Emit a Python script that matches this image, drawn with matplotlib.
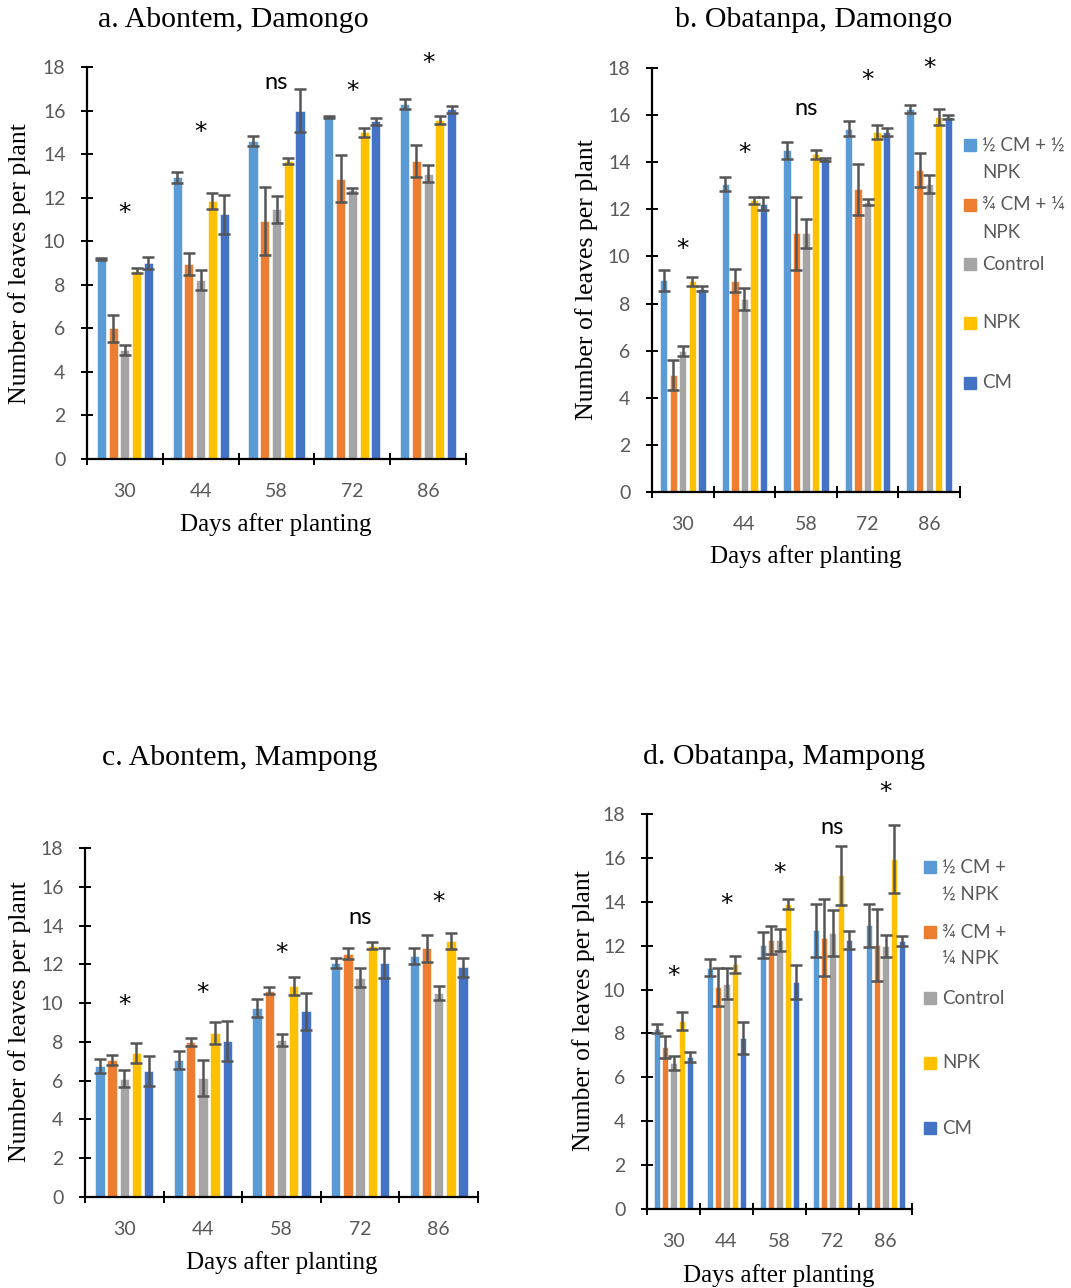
import matplotlib
matplotlib.use("Agg")
import matplotlib.pyplot as plt
from matplotlib.patches import Rectangle
import numpy as np

W, H = 1071, 1288

days = ["30", "44", "58", "72", "86"]
treatments = ["½ CM + ½ NPK", "¾ CM + ¼ NPK", "Control", "NPK", "CM"]
colors = ["#5B9BD5", "#ED7D31", "#A5A5A5", "#FFC000", "#4472C4"]

# Panel a: Abontem, Damongo  (rows = treatments, cols = days)
a_vals = [[9.2, 12.94, 14.6, 15.7, 16.3],
          [6.0, 8.97, 10.92, 12.88, 13.68],
          [5.0, 8.22, 11.46, 12.34, 13.1],
          [8.65, 11.86, 13.7, 15.0, 15.57],
          [9.0, 11.23, 16.0, 15.5, 16.05]]
a_err = [[0.05, 0.26, 0.23, 0.05, 0.23],
         [0.63, 0.5, 1.55, 1.08, 0.72],
         [0.23, 0.48, 0.62, 0.12, 0.38],
         [0.12, 0.37, 0.14, 0.2, 0.2],
         [0.26, 0.88, 1.0, 0.18, 0.17]]
a_sig = ["*", "*", "ns", "*", "*"]
a_sig_y = [11.3, 15.0, 17.3, 16.9, 18.2]

# Panel b: Obatanpa, Damongo
b_vals = [[8.99, 13.09, 14.5, 15.42, 16.27],
          [4.98, 8.97, 10.98, 12.85, 13.67],
          [5.99, 8.2, 10.98, 12.31, 13.09],
          [8.94, 12.38, 14.33, 15.28, 15.92],
          [8.63, 12.24, 14.12, 15.28, 15.92]]
b_err = [[0.45, 0.3, 0.35, 0.31, 0.18],
         [0.64, 0.48, 1.54, 1.09, 0.71],
         [0.2, 0.48, 0.62, 0.13, 0.38],
         [0.2, 0.14, 0.18, 0.3, 0.35],
         [0.11, 0.27, 0.06, 0.18, 0.08]]
b_sig = ["*", "*", "ns", "*", "*"]
b_sig_y = [10.3, 14.4, 16.3, 17.5, 18.0]

# Panel c: Abontem, Mampong
c_vals = [[6.77, 7.08, 9.76, 12.07, 12.45],
          [7.07, 8.0, 10.64, 12.55, 12.82],
          [6.1, 6.14, 8.11, 11.31, 10.52],
          [7.41, 8.46, 10.9, 12.96, 13.2],
          [6.5, 8.05, 9.58, 12.07, 11.84]]
c_err = [[0.36, 0.46, 0.46, 0.24, 0.41],
         [0.27, 0.22, 0.17, 0.28, 0.7],
         [0.43, 0.91, 0.31, 0.48, 0.38],
         [0.52, 0.58, 0.46, 0.17, 0.41],
         [0.77, 1.05, 0.96, 0.76, 0.48]]
c_sig = ["*", "*", "*", "ns", "*"]
c_sig_y = [9.9, 10.5, 12.6, 14.4, 15.2]

# Panel d: Obatanpa, Mampong
d_vals = [[8.21, 10.99, 12.02, 12.7, 12.92],
          [7.38, 10.11, 12.26, 12.37, 12.04],
          [6.65, 10.26, 12.26, 12.57, 11.99],
          [8.58, 11.15, 13.9, 15.21, 15.94],
          [6.94, 7.8, 10.35, 12.26, 12.22]]
d_err = [[0.21, 0.39, 0.59, 1.2, 0.99],
         [0.49, 0.88, 0.64, 1.76, 1.65],
         [0.3, 0.7, 0.49, 1.05, 0.5],
         [0.42, 0.38, 0.21, 1.34, 1.56],
         [0.23, 0.74, 0.79, 0.41, 0.23]]
d_sig = ["*", "*", "*", "ns", "*"]
d_sig_y = [10.6, 13.9, 15.3, 17.4, 19.0]

SANS = ["Lato", "DejaVu Sans"]
SERIF = ["Liberation Serif", "DejaVu Serif"]
GREY = "#595959"

fig = plt.figure(figsize=(W / 100, H / 100), dpi=100)


def px_axes(l, t, r, b):
    return fig.add_axes([l / W, 1 - b / H, (r - l) / W, (b - t) / H])


def draw_panel(ax, vals, errs, sig, sig_y):
    n = len(days)
    centers = np.arange(n) + 0.5
    bw, pitch = 0.12, 0.155
    for j, (v, e) in enumerate(zip(vals, errs)):
        x = centers + (j - 2) * pitch
        ax.bar(x, v, width=bw, color=colors[j], edgecolor="white", linewidth=0.4, zorder=2)
        ax.errorbar(x, v, yerr=e, fmt="none", ecolor="#555555", elinewidth=1.8,
                    capsize=4, capthick=1.8, zorder=3)
    for c, s, y in zip(centers, sig, sig_y):
        if s == "ns":
            ax.text(c, y, s, ha="center", va="center", fontsize=17,
                    family=SANS, color="black", zorder=4)
        else:
            ax.text(c, y, s, ha="center", va="center", fontsize=18,
                    family=["DejaVu Sans"], color="black", zorder=4)
    ax.set_xlim(0, n)
    ax.set_ylim(0, 18)
    ax.set_yticks(np.arange(0, 19, 2))
    ax.set_xticks(np.arange(0, n + 1))
    ax.set_xticklabels([])
    ax.set_xticks(centers, minor=True)
    ax.set_xticklabels(days, minor=True)
    for sp in ["top", "right"]:
        ax.spines[sp].set_visible(False)
    for sp in ["left", "bottom"]:
        ax.spines[sp].set_linewidth(1.6)
        ax.spines[sp].set_color("black")
    ax.tick_params(axis="y", direction="inout", length=9, width=1.4, pad=11,
                   labelsize=14, labelcolor=GREY, color="black")
    ax.tick_params(axis="x", which="major", direction="inout", length=9, width=1.4)
    ax.tick_params(axis="x", which="minor", length=0, pad=17, labelsize=14,
                   labelcolor=GREY)
    for lab in ax.get_yticklabels() + ax.get_xticklabels(minor=True):
        lab.set_family(SANS)
    for art in ax.get_children():
        try:
            art.set_clip_on(False)
        except Exception:
            pass


def legend_px(x_sq, entries):
    for j, (y, lines) in enumerate(entries):
        fig.patches.append(Rectangle((x_sq / W, 1 - (y + 6) / H), 12 / W, 12 / H,
                                     transform=fig.transFigure, color=colors[j]))
        for k, line in enumerate(lines):
            fig.text((x_sq + 18) / W, 1 - (y + k * 27) / H, line, ha="left", va="center",
                     fontsize=13.5, family=SANS, color=GREY)


def fig_text(x, y, s, size, rot=0):
    fig.text(x / W, 1 - y / H, s, ha="center", va="center", fontsize=size,
             family=SERIF, color="black", rotation=rot)


panels = [
    ((87, 67, 466, 459), a_vals, a_err, a_sig, a_sig_y,
     "a. Abontem, Damongo", (233, 20), (276, 525), (20, 264)),
    ((652, 68, 960, 492), b_vals, b_err, b_sig, b_sig_y,
     "b. Obatanpa, Damongo", (814, 20), (806, 557), (587, 280)),
    ((85, 848, 478, 1197), c_vals, c_err, c_sig, c_sig_y,
     "c. Abontem, Mampong", (240, 758), (282, 1263), (20, 1022)),
    ((647, 814, 912, 1209), d_vals, d_err, d_sig, d_sig_y,
     "d. Obatanpa, Mampong", (784, 757), (779, 1276), (584, 1011)),
]

for box, v, e, s, sy, title, tpos, xpos, ypos in panels:
    ax = px_axes(*box)
    draw_panel(ax, v, e, s, sy)
    fig_text(tpos[0], tpos[1], title, 21.5)
    fig_text(xpos[0], xpos[1], "Days after planting", 18)
    fig_text(ypos[0], ypos[1], "Number of leaves per plant", 18.5, rot=90)

legend_px(964, [(145, ["½ CM + ½", "NPK"]), (205, ["¾ CM + ¼", "NPK"]),
                (264, ["Control"]), (323, ["NPK"]), (383, ["CM"])])
legend_px(924, [(867, ["½ CM +", "½ NPK"]), (932, ["¾ CM +", "¼ NPK"]),
                (998, ["Control"]), (1063, ["NPK"]), (1128, ["CM"])])

fig.savefig("out.png", dpi=100)
